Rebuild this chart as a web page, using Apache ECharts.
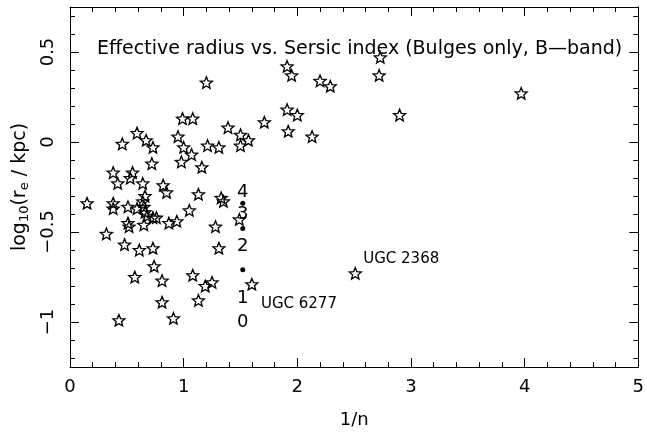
<!DOCTYPE html>
<html>
<head>
<meta charset="utf-8">
<script src="https://cdn.jsdelivr.net/npm/echarts@6/dist/echarts.min.js"></script>
<style>html,body{margin:0;padding:0;background:#fff}#c{width:647px;height:438px}</style>
</head>
<body>
<div id="c"></div>
<script>
// Stars: bulges, x = 1/n, y = log10(re/kpc)
const starX = [1.20,0.99,1.08,1.39,1.50,1.50,1.57,0.46,0.59,0.67,0.73,0.95,1.00,1.07,0.98,1.21,1.31,1.16,0.72,0.38,
  0.42,0.53,0.55,0.64,0.82,0.85,0.66,1.13,1.33,2.73,2.72,1.91,1.95,2.20,2.29,1.91,2.00,2.90,1.71,1.92,
  2.13,3.97,0.15,0.38,0.38,0.51,0.59,0.65,0.66,0.68,0.73,0.76,0.87,0.94,1.05,0.51,0.52,0.65,0.32,1.28,
  1.49,0.48,0.61,0.73,1.31,0.74,0.57,0.81,1.08,1.19,1.25,1.60,0.81,1.13,0.43,0.91,2.51,1.35,0.64];
const starY = [0.33,0.13,0.13,0.08,0.04,-0.02,0.01,-0.01,0.05,0.01,-0.03,0.03,-0.03,-0.07,-0.11,-0.02,-0.03,-0.14,-0.12,-0.17,
  -0.23,-0.20,-0.17,-0.23,-0.24,-0.28,-0.30,-0.29,-0.31,0.47,0.37,0.42,0.37,0.34,0.31,0.18,0.15,0.15,0.11,0.06,
  0.03,0.27,-0.34,-0.34,-0.37,-0.36,-0.37,-0.36,-0.39,-0.41,-0.42,-0.42,-0.45,-0.44,-0.38,-0.45,-0.47,-0.46,-0.51,-0.47,
  -0.43,-0.57,-0.60,-0.59,-0.59,-0.69,-0.75,-0.77,-0.74,-0.80,-0.78,-0.79,-0.89,-0.88,-0.99,-0.98,-0.73,-0.33,-0.33];
// Reference dots
const dotX = [1.52,1.52,1.52];
const dotY = [-0.34,-0.48,-0.71];
// Numeric labels beside the dots
const numText = ['4','3','2','1','0'];
const numX = [1.52,1.52,1.52,1.52,1.52];
const numY = [-0.28,-0.40,-0.58,-0.87,-1.00];
// Galaxy annotations
const annText = ['UGC 6277','UGC 2368'];
const annX = [1.68,2.58];
const annY = [-0.90,-0.65];
// Ticks
const xMajor = [0,1,2,3,4,5];
const xMinor = [0.2,0.4,0.6,0.8,1.2,1.4,1.6,1.8,2.2,2.4,2.6,2.8,3.2,3.4,3.6,3.8,4.2,4.4,4.6,4.8];
const yMajor = [-1,-0.5,0,0.5];
const yMinor = [-1.2,-1.1,-0.9,-0.8,-0.7,-0.6,-0.4,-0.3,-0.2,-0.1,0.1,0.2,0.3,0.4,0.6,0.7];

const FONT = 'DejaVu Sans';
const starPath = 'path://M50 0 L62.93 32.2 L97.55 34.55 L70.92 56.8 L79.39 90.45 L50 72 L20.61 90.45 L29.08 56.8 L2.45 34.55 L37.07 32.2 Z';

function xAx(pos, ticks, len, labels, line) {
  return {
    type:'value', position:pos, min:0, max:5,
    axisLine:{show:line, onZero:false, lineStyle:{color:'#000', width:1}},
    axisTick:{show:true, inside:true, length:len, customValues:ticks, lineStyle:{color:'#000', width:1}},
    axisLabel:{show:labels, customValues:ticks, color:'#000', fontFamily:FONT, fontSize:18, margin:11,
      formatter:v=>String(v)},
    splitLine:{show:false}
  };
}
function yAx(pos, ticks, len, labels, line) {
  return {
    type:'value', position:pos, min:-1.25, max:0.75,
    axisLine:{show:line, onZero:false, lineStyle:{color:'#000', width:1}},
    axisTick:{show:true, inside:true, length:len, customValues:ticks, lineStyle:{color:'#000', width:1}},
    axisLabel:{show:labels, customValues:ticks, color:'#000', fontFamily:FONT, fontSize:18, rotate:90, margin:13,
      formatter:v=>(v<0?'\u2212':'')+String(Math.abs(v))},
    splitLine:{show:false}
  };
}

const xAxes = [xAx('bottom', xMajor, 9, true, true), xAx('bottom', xMinor, 5, false, false),
               xAx('top', xMajor, 9, false, true), xAx('top', xMinor, 5, false, false)];
xAxes[0].name = '1/n';
xAxes[0].nameLocation = 'middle';
xAxes[0].nameGap = 44;
xAxes[0].nameTextStyle = {color:'#000', fontFamily:FONT, fontSize:18};

const yAxes = [yAx('left', yMajor, 9, true, true), yAx('left', yMinor, 5, false, false),
               yAx('right', yMajor, 9, false, true), yAx('right', yMinor, 5, false, false)];
yAxes[0].name = '{a|log}{s|10}{a|(r}{s|e}{a| / kpc)}';
yAxes[0].nameLocation = 'middle';
yAxes[0].nameGap = 36;
yAxes[0].nameTextStyle = {color:'#000', fontFamily:FONT, fontSize:19,
  rich:{a:{fontFamily:FONT, fontSize:19, color:'#000'}, s:{fontFamily:FONT, fontSize:13, color:'#000', padding:[10,0,0,0]}}};

const chart = echarts.init(document.getElementById('c'), null, {renderer:'canvas'});
chart.setOption({
  animation:false,
  backgroundColor:'#fff',
  title:{text:'Effective radius vs. Sersic index (Bulges only, B\u2014band)', left:92, top:35,
    textStyle:{color:'#000', fontFamily:FONT, fontSize:19, fontWeight:'normal'}},
  grid:{left:70, right:6, top:7, bottom:71, containLabel:false},
  xAxis:xAxes,
  yAxis:yAxes,
  series:[
    {type:'scatter', xAxisIndex:0, yAxisIndex:0, symbol:starPath, symbolSize:[12,11.5],
      itemStyle:{color:'rgba(0,0,0,0)', borderColor:'#000', borderWidth:1.3, opacity:1},
      data:starX.map((x,i)=>[x,starY[i]])},
    {type:'scatter', xAxisIndex:0, yAxisIndex:0, symbol:'circle', symbolSize:5,
      itemStyle:{color:'#000', opacity:1}, data:dotX.map((x,i)=>[x,dotY[i]])},
    {type:'scatter', xAxisIndex:0, yAxisIndex:0, symbolSize:0, itemStyle:{opacity:1},
      label:{show:true, position:'inside', color:'#000', opacity:1, textBorderWidth:0, fontFamily:FONT, fontSize:18, formatter:p=>p.data[2]},
      data:numX.map((x,i)=>[x,numY[i],numText[i]])},
    {type:'scatter', xAxisIndex:0, yAxisIndex:0, symbolSize:0, itemStyle:{opacity:1},
      label:{show:true, position:'right', distance:0, color:'#000', opacity:1, textBorderWidth:0, fontFamily:FONT, fontSize:15, formatter:p=>p.data[2]},
      data:annX.map((x,i)=>[x,annY[i],annText[i]])}
  ]
});
</script>
</body>
</html>
